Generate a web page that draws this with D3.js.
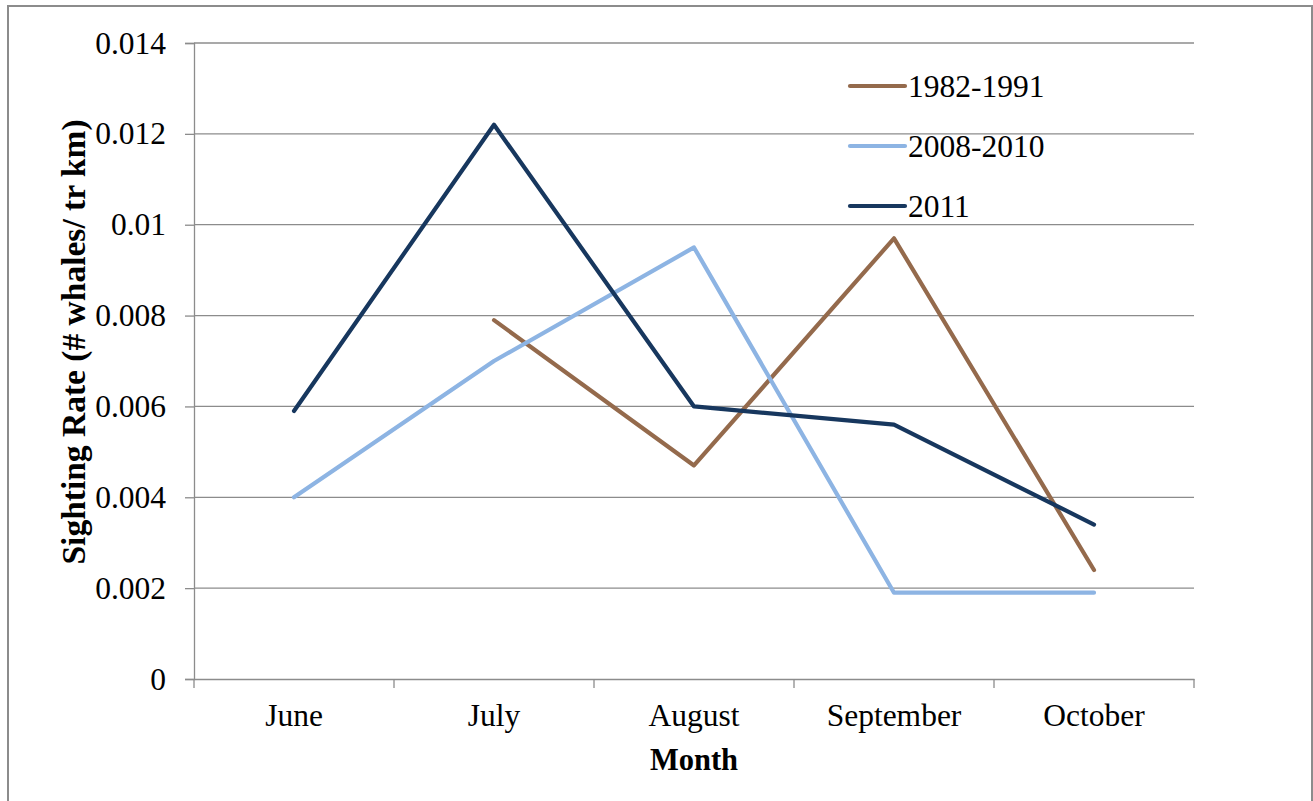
<!DOCTYPE html>
<html>
<head>
<meta charset="utf-8">
<script src="https://cdn.jsdelivr.net/npm/d3@7/dist/d3.min.js"></script>
<style>
  html, body { margin: 0; padding: 0; background: #fff; }
  svg { display: block; }
  text { font-family: "Liberation Serif", "Times New Roman", serif; fill: #000; }
</style>
</head>
<body>
<svg id="chart" width="1313" height="801"></svg>
<script>
// Monthly whale sighting rates by survey period
const months = ["June", "July", "August", "September", "October"];
const seriesNames = ["1982-1991", "2008-2010", "2011"];
const rate1982 = [null, 0.0079, 0.0047, 0.0097, 0.0024];
const rate2008 = [0.0040, 0.0070, 0.0095, 0.0019, 0.0019];
const rate2011 = [0.0059, 0.0122, 0.0060, 0.0056, 0.0034];
const yTicks = [0, 0.002, 0.004, 0.006, 0.008, 0.01, 0.012, 0.014];
const yTickLabels = ["0", "0.002", "0.004", "0.006", "0.008", "0.01", "0.012", "0.014"];
const seriesColors = ["#946a4c", "#8db4e3", "#17375e"];

const svg = d3.select("#chart");
const margin = { left: 194, right: 1194, top: 43, bottom: 679 };

// outer frame
svg.append("rect")
  .attr("x", 8).attr("y", 6)
  .attr("width", 1304).attr("height", 810)
  .attr("fill", "#fff")
  .attr("stroke", "#8c8c8c").attr("stroke-width", 2);

const x = d3.scaleBand().domain(months).range([margin.left, margin.right]);
const y = d3.scaleLinear().domain([0, 0.014]).range([margin.bottom, margin.top]);

// horizontal gridlines
svg.append("g")
  .selectAll("line")
  .data(yTicks.slice(1))
  .join("line")
  .attr("x1", margin.left).attr("x2", margin.right)
  .attr("y1", d => y(d)).attr("y2", d => y(d))
  .attr("stroke", "#8c8c8c").attr("stroke-width", 1.3);

// y axis
const yAxis = d3.axisLeft(y)
  .tickValues(yTicks)
  .tickSize(9)
  .tickPadding(19)
  .tickFormat((d, i) => yTickLabels[i]);
const gy = svg.append("g")
  .attr("transform", `translate(${margin.left},0)`)
  .call(yAxis);
gy.select(".domain").attr("stroke", "#8c8c8c").attr("stroke-width", 1.3);
gy.selectAll(".tick line").attr("stroke", "#8c8c8c").attr("stroke-width", 1.3);
gy.selectAll(".tick text")
  .attr("font-family", "Liberation Serif, Times New Roman, serif")
  .attr("font-size", 31.5).attr("fill", "#000");

// x axis with ticks on band boundaries
const gx = svg.append("g")
  .attr("transform", `translate(0,${margin.bottom})`)
  .call(d3.axisBottom(x).tickSize(0).tickPadding(25));
gx.select(".domain").attr("stroke", "#8c8c8c").attr("stroke-width", 1.3);
gx.selectAll(".tick text")
  .attr("font-family", "Liberation Serif, Times New Roman, serif")
  .attr("font-size", 31.5).attr("fill", "#000");
const boundaries = months.map(m => x(m)).concat([x(months[months.length - 1]) + x.bandwidth()]);
gx.selectAll("line.boundary")
  .data(boundaries)
  .join("line")
  .attr("class", "boundary")
  .attr("x1", d => d).attr("x2", d => d)
  .attr("y1", 0).attr("y2", 9)
  .attr("stroke", "#8c8c8c").attr("stroke-width", 1.3);

// axis titles
svg.append("text")
  .attr("x", x(months[2]) + x.bandwidth() / 2).attr("y", 770)
  .attr("text-anchor", "middle")
  .attr("font-weight", "bold").attr("font-size", 30.5)
  .text("Month");
svg.append("text")
  .attr("transform", "translate(85,342) rotate(-90)")
  .attr("text-anchor", "middle")
  .attr("font-weight", "bold").attr("font-size", 33.5)
  .text("Sighting Rate (# whales/ tr km)");

// series lines
const allSeries = [rate1982, rate2008, rate2011];
const line = d3.line()
  .defined(d => d.v !== null)
  .x(d => x(d.m) + x.bandwidth() / 2)
  .y(d => y(d.v));
allSeries.forEach((vals, i) => {
  svg.append("path")
    .datum(vals.map((v, j) => ({ m: months[j], v })))
    .attr("d", line)
    .attr("fill", "none")
    .attr("stroke", seriesColors[i])
    .attr("stroke-width", 4.2)
    .attr("stroke-linecap", "round")
    .attr("stroke-linejoin", "round");
});

// legend
const legend = svg.append("g").attr("transform", "translate(850,86)");
seriesNames.forEach((name, i) => {
  const g = legend.append("g").attr("transform", `translate(0,${i * 60})`);
  g.append("line")
    .attr("x1", 0).attr("x2", 55).attr("y1", 0).attr("y2", 0)
    .attr("stroke", seriesColors[i]).attr("stroke-width", 4.2)
    .attr("stroke-linecap", "round");
  g.append("text")
    .attr("x", 58).attr("y", 10.5)
    .attr("font-size", 31.5)
    .text(name);
});
</script>
</body>
</html>
